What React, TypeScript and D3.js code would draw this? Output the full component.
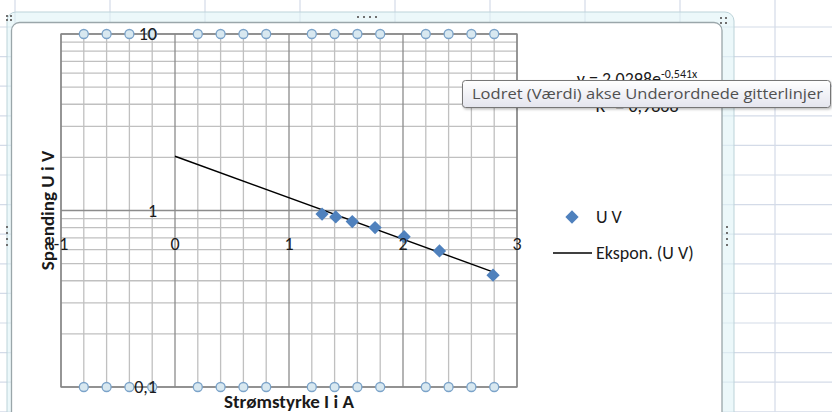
import React from "react";
import * as d3 from "d3";

// ---- data ----
const current = [1.29, 1.41, 1.555, 1.755, 2.01, 2.32, 2.79]; // Strømstyrke I i A
const voltage = [0.955, 0.92, 0.865, 0.8, 0.71, 0.59, 0.43]; // Spænding U i V
const xTicks = [-1, 0, 1, 2, 3];
const xTickLabels = ["-1", "0", "1", "2", "3"];
const yTicks = [0.1, 1, 10];
const yTickLabels = ["0,1", "1", "10"];
const trendA = 2.0298;
const trendB = -0.541;
const trendRange = [0, 2.8];
const trendEqA = "y = 2,0298e";
const trendEqExp = "-0,541x";
const trendR2 = "R² = 0,9868";
const legendLabels = ["U V", "Ekspon. (U V)"];
const xTitle = "Strømstyrke I i A";
const yTitle = "Spænding U i V";
const tooltipText = "Lodret (Værdi) akse Underordnede gitterlinjer";

const W = 832;
const H = 412;
const FONT = "Carlito, Calibri, Lato, sans-serif";
const BLUE = "#4f81bd";

export default function App() {
  const x = d3.scaleLinear().domain([-1, 3]).range([61, 517]);
  const y = d3.scaleLog().domain([0.1, 10]).range([387, 34]);
  const [x0, x1] = x.range();
  const [y0, y1] = y.range();

  const minorX = d3.range(-1, 3.0001, 0.2).filter((v) => Math.abs(v - Math.round(v)) > 1e-6);
  const minorY: number[] = [];
  [0.1, 1].forEach((k) => d3.range(2, 10).forEach((m) => minorY.push(m * k)));

  const cols = d3.range(15, W, 95);
  const rows = d3.range(27, H + 30, 29.6);

  const trendLine = d3
    .line<number>()
    .x((v) => x(v))
    .y((v) => y(trendA * Math.exp(trendB * v)));

  const diamond = d3.symbol(d3.symbolSquare, 88)();
  const xAxisCross = 0.7;

  return (
    <svg width={W} height={H} style={{ position: "absolute", left: 0, top: 0, display: "block" }}>
      <defs>
        <linearGradient id="tipg" x1="0" y1="0" x2="0" y2="1">
          <stop offset="0" stopColor="#ffffff" />
          <stop offset="1" stopColor="#e4e5ee" />
        </linearGradient>
        <filter id="sh" x="-5%" y="-30%" width="110%" height="170%">
          <feDropShadow dx="1" dy="1.5" stdDeviation="1.2" floodColor="#000" floodOpacity="0.25" />
        </filter>
      </defs>
      <rect x={0} y={0} width={W} height={H} fill="#ffffff" />
      {/* spreadsheet cell grid */}
      {cols.map((c, i) => (
        <line key={"c" + i} x1={c} x2={c} y1={0} y2={H} stroke="#d4dbe8" strokeWidth={1.2} />
      ))}
      {rows.map((r, i) => (
        <line key={"r" + i} x1={0} x2={W} y1={r} y2={r} stroke="#d4dbe8" strokeWidth={1.2} />
      ))}
      {/* selection frame */}
      <rect x={7} y={12} width={727} height={440} rx={9} fill="#dff4f6" fillOpacity={0.6} stroke="#bcd3d9" />
      {/* chart area */}
      <rect x={11.5} y={22.5} width={710.5} height={430} rx={8} fill="#ffffff" stroke="#9aa6aa" strokeWidth={1.3} />
      {/* frame handles */}
      {[
        [6, 15], [10, 15], [6, 19], [10, 19],
        [720, 17], [725, 17], [720, 22], [725, 22],
        [357, 16], [363, 16], [369, 16], [375, 16],
        [726, 226], [726, 232], [726, 238], [726, 244],
        [6, 226], [6, 232], [6, 238], [6, 244],
      ].map(([hx, hy], i) => (
        <rect key={"h" + i} x={hx} y={hy} width={2} height={2} fill="#707070" />
      ))}

      {/* gridlines */}
      {minorY.map((v, i) => (
        <line key={"my" + i} x1={x0} x2={x1} y1={y(v)} y2={y(v)} stroke="#c0c0c0" strokeWidth={1.3} />
      ))}
      {minorX.map((v, i) => (
        <line key={"mx" + i} x1={x(v)} x2={x(v)} y1={y0} y2={y1} stroke="#c0c0c0" strokeWidth={1.3} />
      ))}
      {yTicks.map((v, i) => (
        <line key={"Y" + i} x1={x0} x2={x1} y1={y(v)} y2={y(v)} stroke="#8c8c8c" strokeWidth={1.3} />
      ))}
      {xTicks.map((v, i) => (
        <line key={"X" + i} x1={x(v)} x2={x(v)} y1={y0} y2={y1} stroke="#8c8c8c" strokeWidth={1.3} />
      ))}
      <rect x={x0} y={y1} width={x1 - x0} height={y0 - y1} fill="none" stroke="#868686" strokeWidth={1.3} />

      {/* trendline */}
      <path d={trendLine(trendRange) || ""} fill="none" stroke="#000" strokeWidth={1.4} />
      {/* points */}
      {current.map((c, i) => (
        <path key={"p" + i} d={diamond || ""} transform={`translate(${x(c)},${y(voltage[i])}) rotate(45)`} fill={BLUE} />
      ))}

      {/* selection handles on minor gridlines */}
      {minorX.map((v, i) => (
        <g key={"sel" + i}>
          <circle cx={x(v)} cy={y1} r={4.5} fill="#d8e8f0" stroke="#7ba3c9" strokeWidth={1.3} />
          <circle cx={x(v)} cy={y0} r={4.5} fill="#d8e8f0" stroke="#7ba3c9" strokeWidth={1.3} />
        </g>
      ))}

      {/* tick labels */}
      {yTicks.map((v, i) => (
        <text key={"yl" + i} x={x(0) - 18} y={y(v)} dy="0.35em" textAnchor="end" fontFamily={FONT} fontSize={18} fill="#1a1a1a">
          {yTickLabels[i]}
        </text>
      ))}
      {xTicks.map((v, i) => (
        <text key={"xl" + i} x={x(v)} y={y(xAxisCross) + 6} dy="0.35em" textAnchor="middle" fontFamily={FONT} fontSize={18} fill="#1a1a1a">
          {xTickLabels[i]}
        </text>
      ))}

      {/* axis titles */}
      <text x={(x0 + x1) / 2} y={408} textAnchor="middle" fontFamily={FONT} fontWeight="bold" fontSize={19} fill="#1a1a1a">
        {xTitle}
      </text>
      <text transform={`translate(54,${(y0 + y1) / 2}) rotate(-90)`} textAnchor="middle" fontFamily={FONT} fontWeight="bold" fontSize={19} fill="#1a1a1a">
        {yTitle}
      </text>

      {/* trend equation */}
      <text x={637} y={85} textAnchor="middle" fontFamily={FONT} fontSize={18} fill="#1a1a1a">
        {trendEqA}
        <tspan fontSize={12} dy={-7}>{trendEqExp}</tspan>
      </text>
      <text x={637} y={112} textAnchor="middle" fontFamily={FONT} fontSize={18} fill="#1a1a1a">
        {trendR2}
      </text>

      {/* legend */}
      <path d={diamond || ""} transform="translate(572,217) rotate(45)" fill={BLUE} />
      <text x={596} y={217} dy="0.35em" fontFamily={FONT} fontSize={18} fill="#1a1a1a">
        {legendLabels[0]}
      </text>
      <line x1={553} x2={592} y1={253} y2={253} stroke="#000" strokeWidth={1.4} />
      <text x={596} y={253} dy="0.35em" fontFamily={FONT} fontSize={18} fill="#1a1a1a">
        {legendLabels[1]}
      </text>

      {/* tooltip */}
      <rect x={462.5} y={80.5} width={368} height={27} rx={3} fill="url(#tipg)" stroke="#767676" filter="url(#sh)" />
      <text x={472} y={94} dy="0.35em" fontFamily="'Open Sans', 'Noto Sans', sans-serif" fontSize={15} fill="#505050" textLength={351} lengthAdjust="spacingAndGlyphs">
        {tooltipText}
      </text>
    </svg>
  );
}
